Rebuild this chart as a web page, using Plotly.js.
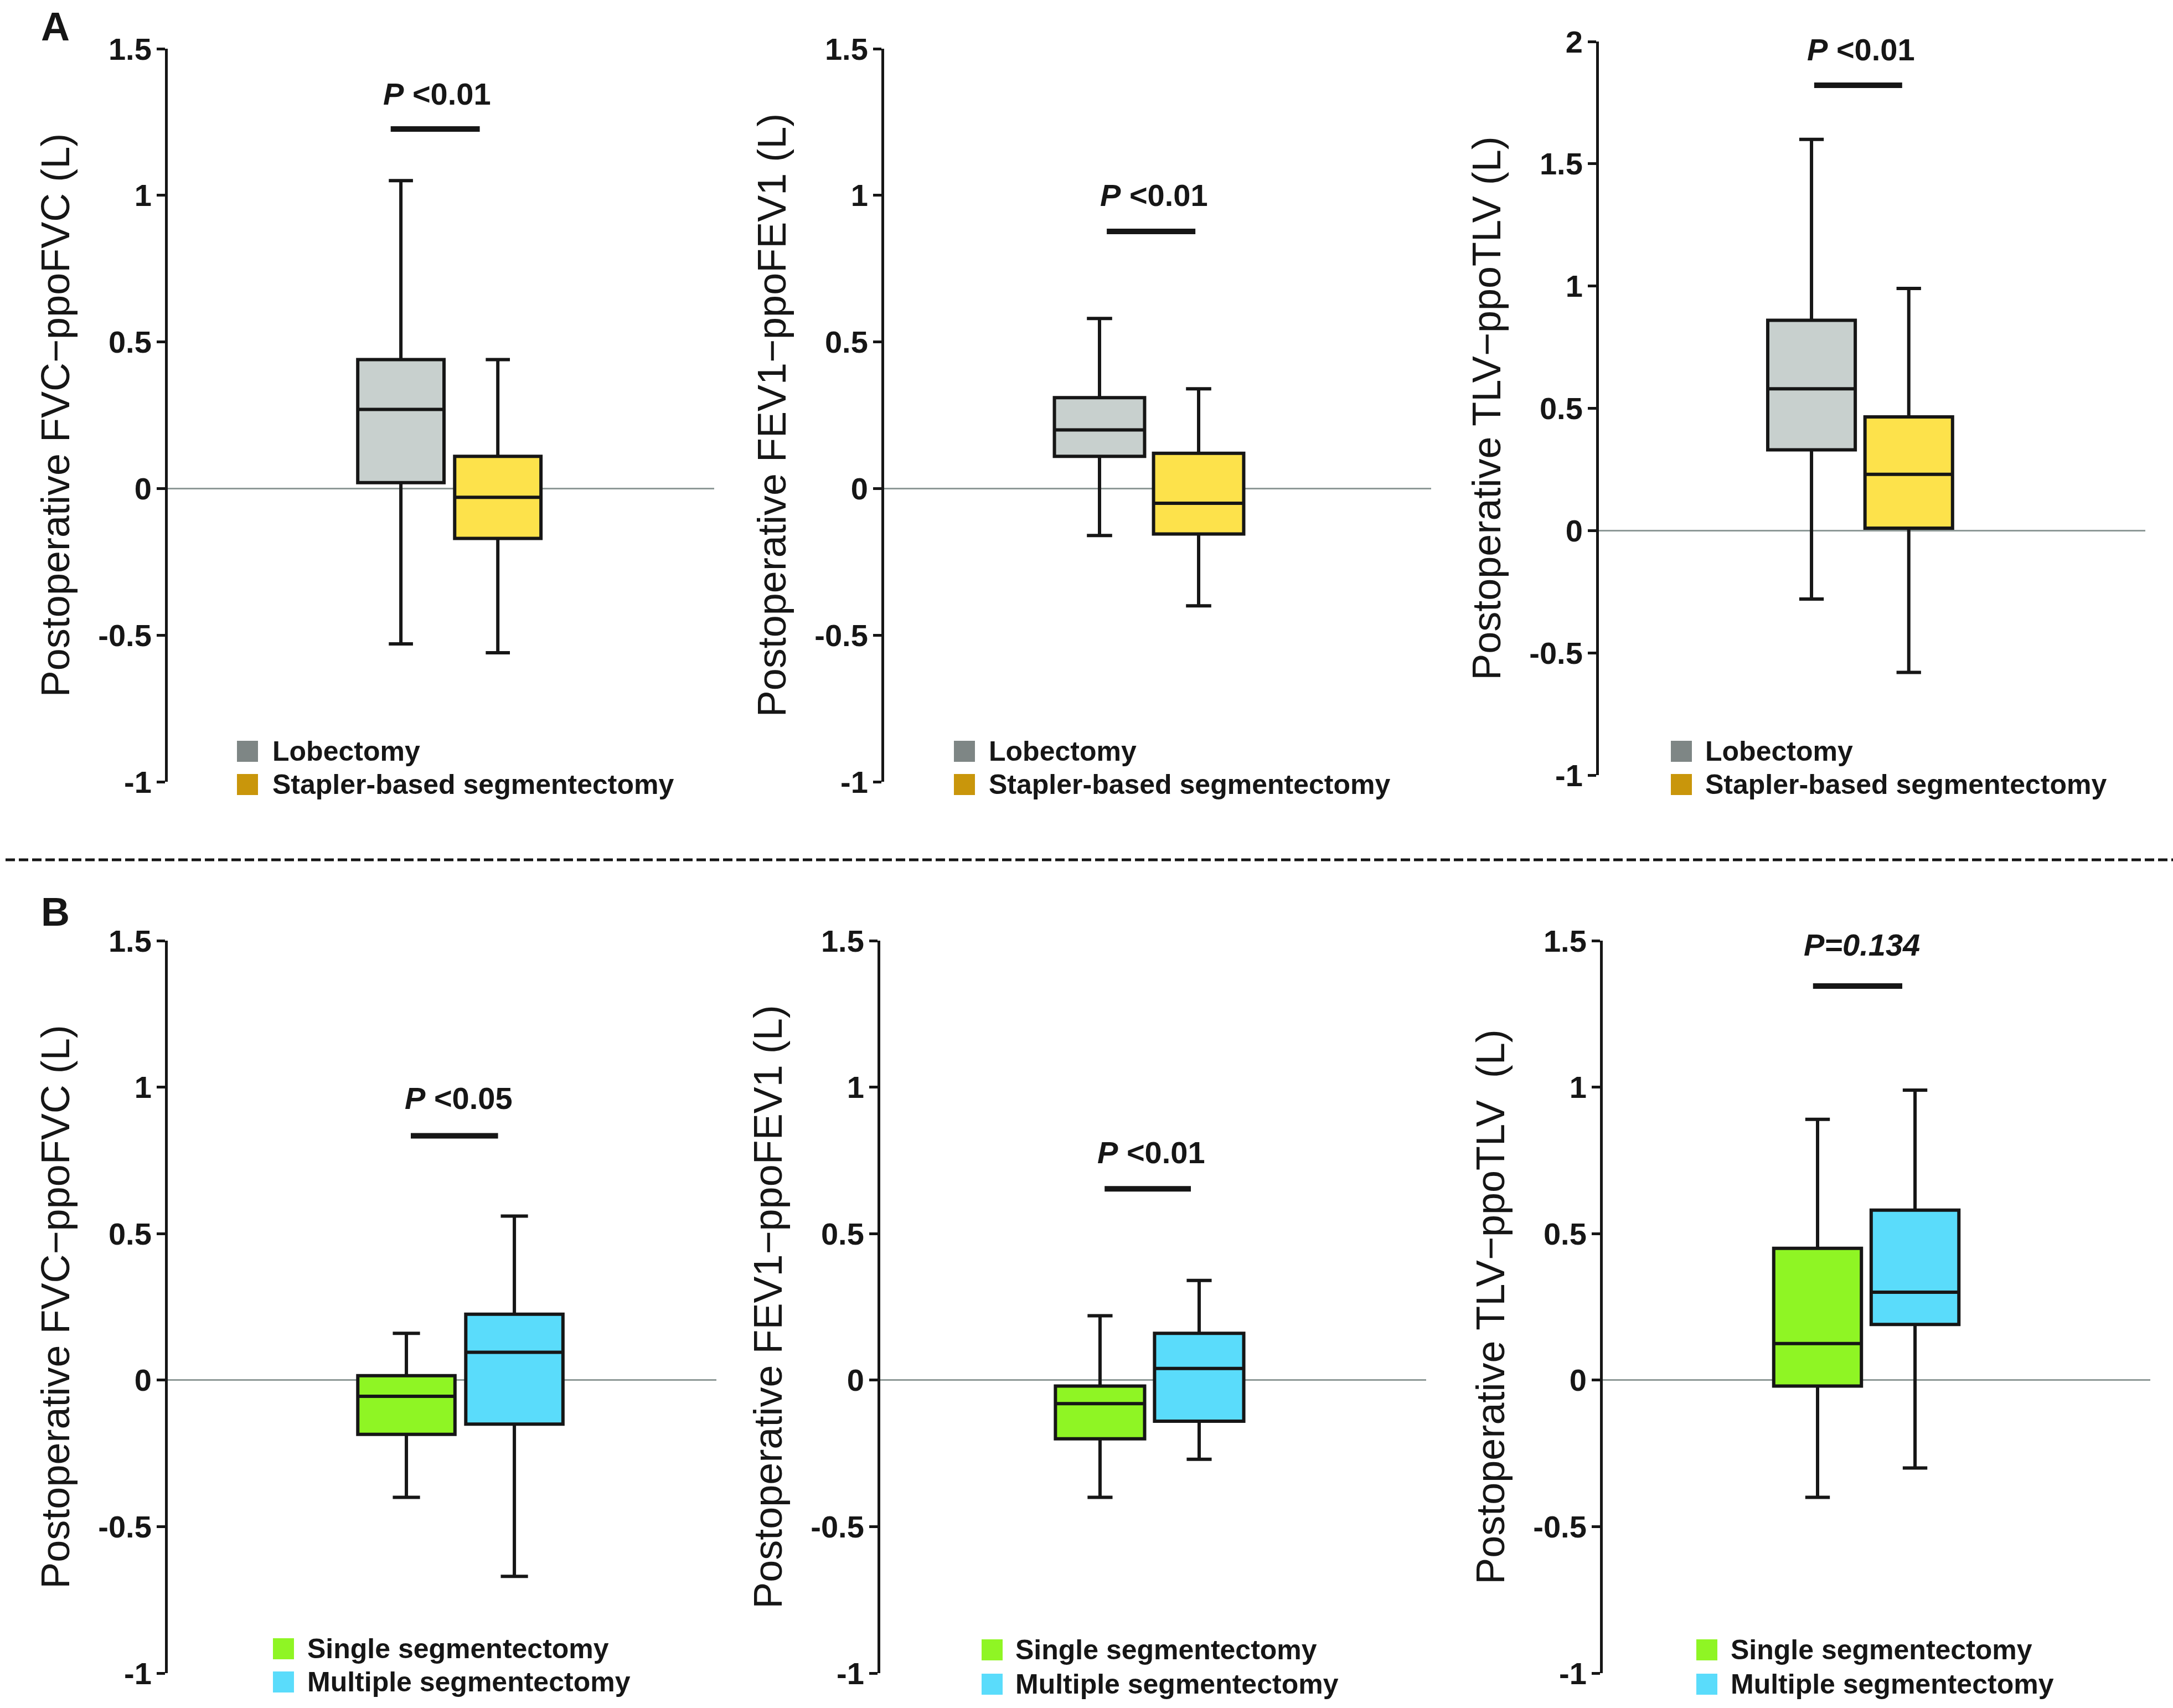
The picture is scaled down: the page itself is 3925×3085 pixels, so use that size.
<!DOCTYPE html>
<html>
<head>
<meta charset="utf-8">
<script src="https://cdn.plot.ly/plotly-3.0.1.min.js"></script>
<style>
html,body{margin:0;padding:0;background:#ffffff;}
#chart{width:3925px;height:3085px;}
</style>
</head>
<body>
<div id="chart"></div>
<script>
// ---------------- DATA ----------------
// Row A: Lobectomy vs Stapler-based segmentectomy  (FVC, FEV1, TLV)
const groupNamesA = ['Lobectomy', 'Stapler-based segmentectomy'];
const lobLower  = [-0.53, -0.16, -0.28];
const lobQ1     = [0.02, 0.11, 0.33];
const lobMedian = [0.27, 0.20, 0.58];
const lobQ3     = [0.44, 0.31, 0.86];
const lobUpper  = [1.05, 0.58, 1.60];

const stapLower  = [-0.56, -0.40, -0.58];
const stapQ1     = [-0.17, -0.155, 0.01];
const stapMedian = [-0.03, -0.05, 0.23];
const stapQ3     = [0.11, 0.12, 0.465];
const stapUpper  = [0.44, 0.34, 0.99];

// Row B: Single vs Multiple segmentectomy (FVC, FEV1, TLV)
const groupNamesB = ['Single segmentectomy', 'Multiple segmentectomy'];
const singleLower  = [-0.40, -0.40, -0.40];
const singleQ1     = [-0.185, -0.20, -0.02];
const singleMedian = [-0.055, -0.08, 0.125];
const singleQ3     = [0.015, -0.02, 0.45];
const singleUpper  = [0.16, 0.22, 0.89];

const multLower  = [-0.67, -0.27, -0.30];
const multQ1     = [-0.15, -0.14, 0.19];
const multMedian = [0.095, 0.04, 0.30];
const multQ3     = [0.225, 0.16, 0.58];
const multUpper  = [0.56, 0.34, 0.99];

// y-axis titles
const yTitlesA = ['Postoperative FVC\u2212ppoFVC (L)', 'Postoperative FEV1\u2212ppoFEV1 (L)', 'Postoperative TLV\u2212ppoTLV (L)'];
const yTitlesB = ['Postoperative FVC\u2212ppoFVC (L)', 'Postoperative FEV1\u2212ppoFEV1 (L)', 'Postoperative TLV\u2212ppoTLV  (L)'];

// significance labels and bar heights (y value)
const pTextA = ['<i>P</i> &lt;0.01', '<i>P</i> &lt;0.01', '<i>P</i> &lt;0.01'];
const pTextB = ['<i>P</i> &lt;0.05', '<i>P</i> &lt;0.01', '<i>P=0.134</i>'];
const pBarYA = [1.226, 0.877, 1.821];
const pBarYB = [0.834, 0.653, 1.345];
const pLabelYA = [1.347, 1.0, 1.968];
const pLabelYB = [0.963, 0.778, 1.486];

// ticks
const tickVals = [-1, -0.5, 0, 0.5, 1, 1.5];
const tickText = ['-1', '-0.5', '0', '0.5', '1', '1.5'];
const tickValsTLV = [-1, -0.5, 0, 0.5, 1, 1.5, 2];
const tickTextTLV = ['-1', '-0.5', '0', '0.5', '1', '1.5', '2'];

// colours
const colLobFill = '#c8d0ce', colStapFill = '#fde24b';
const colLobKey = '#7e8685', colStapKey = '#c9960b';
const colSingle = '#8ff524', colMult = '#5adcfb';

// ---------------- LAYOUT CONFIG (pixel positions) ----------------
const W = 3925, H = 3085;
const FONT = 'Liberation Sans, Arial, Helvetica, sans-serif';
const INK = '#161616';

const panels = [
  {xpx:[303,1290], ypx:[88,1412],  xr:[-2.405,3.232], bw:0.89, bar:[0.408,0.571], txt:0.493, yr:[-1,1.5]},
  {xpx:[1597,2585],ypx:[88,1412],  xr:[-2.173,3.346], bw:0.91, bar:[0.407,0.569], txt:0.493, yr:[-1,1.5]},
  {xpx:[2888,3875],ypx:[75,1400],  xr:[-2.186,3.432], bw:0.90, bar:[0.394,0.555], txt:0.480, yr:[-1,2]},
  {xpx:[303,1294], ypx:[1699,3022],xr:[-2.21,2.871],  bw:0.90, bar:[0.443,0.602], txt:0.530, yr:[-1,1.5]},
  {xpx:[1590,2576],ypx:[1699,3022],xr:[-2.217,3.29],  bw:0.90, bar:[0.411,0.569], txt:0.496, yr:[-1,1.5]},
  {xpx:[2895,3884],ypx:[1699,3022],xr:[-2.204,3.414], bw:0.90, bar:[0.384,0.547], txt:0.473, yr:[-1,1.5]}
];

// legend positions (px): square left, text left, row centres
const legendPos = [
  {sq:428, tx:490, rows:[1357,1417]},
  {sq:1723,tx:1784,rows:[1357,1417]},
  {sq:3018,tx:3078,rows:[1357,1417]},
  {sq:493, tx:553, rows:[2978,3038]},
  {sq:1773,tx:1832,rows:[2980,3042]},
  {sq:3064,tx:3124,rows:[2980,3042]}
];
const SQ = 38;

const px = v => v / W;
const py = v => 1 - v / H;

const traces = [];
const layout = {
  width: W, height: H,
  margin: {l:0, r:0, t:0, b:0},
  paper_bgcolor: '#ffffff',
  plot_bgcolor: 'rgba(0,0,0,0)',
  showlegend: false,
  font: {family: FONT, color: INK},
  shapes: [],
  annotations: []
};

function boxTrace(name, lo, q1, med, q3, hi, fill, axIdx, bw) {
  const sfx = axIdx === 0 ? '' : String(axIdx + 1);
  return {
    type: 'box',
    name: name,
    x: [name],
    lowerfence: [lo], q1: [q1], median: [med], q3: [q3], upperfence: [hi],
    fillcolor: fill,
    line: {color: INK, width: 6},
    whiskerwidth: 0.28,
    width: bw,
    boxpoints: false,
    hoverinfo: 'skip',
    xaxis: 'x' + sfx,
    yaxis: 'y' + sfx
  };
}

for (let i = 0; i < 6; i++) {
  const p = panels[i];
  const j = i % 3;
  const isA = i < 3;
  const sfx = i === 0 ? '' : String(i + 1);
  if (isA) {
    traces.push(boxTrace(groupNamesA[0], lobLower[j], lobQ1[j], lobMedian[j], lobQ3[j], lobUpper[j], colLobFill, i, p.bw));
    traces.push(boxTrace(groupNamesA[1], stapLower[j], stapQ1[j], stapMedian[j], stapQ3[j], stapUpper[j], colStapFill, i, p.bw));
  } else {
    traces.push(boxTrace(groupNamesB[0], singleLower[j], singleQ1[j], singleMedian[j], singleQ3[j], singleUpper[j], colSingle, i, p.bw));
    traces.push(boxTrace(groupNamesB[1], multLower[j], multQ1[j], multMedian[j], multQ3[j], multUpper[j], colMult, i, p.bw));
  }
  const isTLV = (i === 2);
  layout['xaxis' + sfx] = {
    domain: [px(p.xpx[0]), px(p.xpx[1])],
    range: p.xr,
    type: 'category',
    visible: false,
    anchor: 'y' + sfx,
    fixedrange: true
  };
  layout['yaxis' + sfx] = {
    domain: [py(p.ypx[1]), py(p.ypx[0])],
    range: p.yr,
    anchor: 'x' + sfx,
    tickmode: 'array',
    tickvals: isTLV ? tickValsTLV : tickVals,
    ticktext: isTLV ? tickTextTLV : tickText,
    tickfont: {family: FONT, size: 56, color: INK, weight: 'bold'},
    ticks: 'outside', ticklen: 15, tickwidth: 5, tickcolor: INK,
    ticklabelstandoff: -2,
    showline: true, linewidth: 5, linecolor: INK,
    showgrid: false,
    zeroline: true, zerolinecolor: '#8e9997', zerolinewidth: 3,
    fixedrange: true,
    title: {
      text: isA ? yTitlesA[j] : yTitlesB[j],
      font: {family: FONT, size: 72, color: INK},
      standoff: 30
    }
  };

  // significance bar & label
  const barY = isA ? pBarYA[j] : pBarYB[j];
  const labY = isA ? pLabelYA[j] : pLabelYB[j];
  layout.shapes.push({
    type: 'line', xref: 'x' + sfx + ' domain', yref: 'y' + sfx,
    x0: p.bar[0], x1: p.bar[1], y0: barY, y1: barY,
    line: {color: INK, width: 10}
  });
  layout.annotations.push({
    xref: 'x' + sfx + ' domain', yref: 'y' + sfx,
    x: p.txt, y: labY, xanchor: 'center', yanchor: 'middle',
    text: isA ? pTextA[j] : pTextB[j],
    showarrow: false,
    font: {family: FONT, size: 56, color: INK, weight: 'bold'}
  });

  // legend
  const L = legendPos[i];
  const names = isA ? groupNamesA : groupNamesB;
  const keys = isA ? [colLobKey, colStapKey] : [colSingle, colMult];
  for (let k = 0; k < 2; k++) {
    const cy = L.rows[k];
    layout.shapes.push({
      type: 'rect', xref: 'paper', yref: 'paper',
      x0: px(L.sq), x1: px(L.sq + SQ), y0: py(cy + SQ / 2), y1: py(cy - SQ / 2),
      fillcolor: keys[k], line: {width: 0}
    });
    layout.annotations.push({
      xref: 'paper', yref: 'paper', x: px(L.tx), y: py(cy),
      xanchor: 'left', yanchor: 'middle', showarrow: false,
      text: names[k],
      font: {family: FONT, size: 50, color: INK, weight: 'bold'}
    });
  }
}

// panel letters
layout.annotations.push({xref:'paper', yref:'paper', x: px(72), y: py(48), xanchor:'left', yanchor:'middle',
  text:'A', showarrow:false, font:{family: FONT, size: 72, color: INK, weight:'bold'}});
layout.annotations.push({xref:'paper', yref:'paper', x: px(72), y: py(1647), xanchor:'left', yanchor:'middle',
  text:'B', showarrow:false, font:{family: FONT, size: 72, color: INK, weight:'bold'}});

// dashed separator
layout.shapes.push({type:'line', xref:'paper', yref:'paper', x0: px(10), x1: 1, y0: py(1553), y1: py(1553),
  line:{color: INK, width: 5, dash: '17px,7px'}});

Plotly.newPlot('chart', traces, layout, {staticPlot: true, displayModeBar: false});
</script>
</body>
</html>
